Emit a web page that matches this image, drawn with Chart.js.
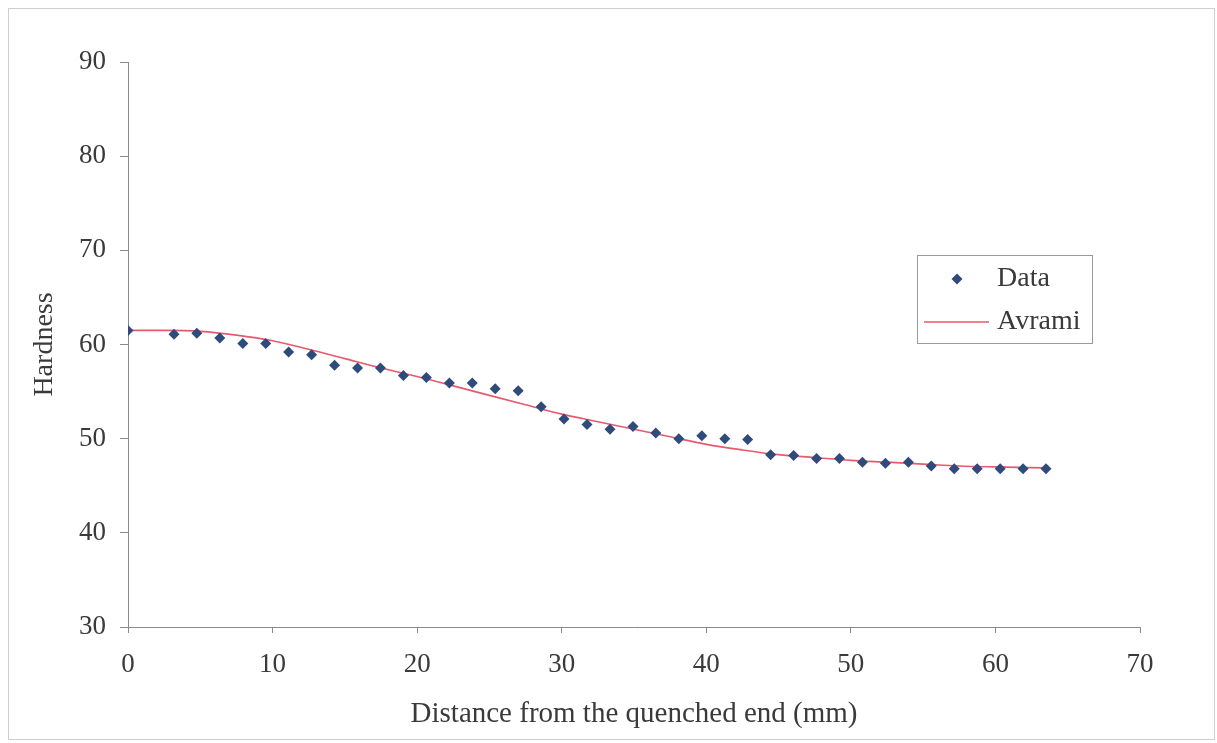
<!DOCTYPE html>
<html>
<head>
<meta charset="utf-8">
<script src="https://cdn.jsdelivr.net/npm/chart.js@4"></script>
<style>
  html, body { margin: 0; padding: 0; background: #fff; }
  #wrap { width: 1217px; height: 743px; }
</style>
</head>
<body>
<div id="wrap"><canvas id="myChart" width="1217" height="743"></canvas></div>
<script>
// Jominy positions, 1/16 inch steps (mm)
const dataX = [0, 3.18, 4.76, 6.35, 7.94, 9.53, 11.11, 12.7, 14.29, 15.88, 17.46, 19.05, 20.64,
  22.23, 23.81, 25.4, 26.99, 28.58, 30.16, 31.75, 33.34, 34.93, 36.51, 38.1, 39.69, 41.28,
  42.86, 44.45, 46.04, 47.63, 49.21, 50.8, 52.39, 53.98, 55.56, 57.15, 58.74, 60.33, 61.91, 63.5];
const dataY = [61.5, 61.1, 61.2, 60.7, 60.1, 60.1, 59.2, 58.9, 57.8, 57.5, 57.5, 56.7, 56.5,
  55.9, 55.9, 55.3, 55.1, 53.4, 52.1, 51.5, 51.0, 51.3, 50.6, 50.0, 50.3, 50.0,
  49.9, 48.3, 48.2, 47.9, 47.9, 47.5, 47.4, 47.5, 47.1, 46.8, 46.8, 46.8, 46.8, 46.8];

const avramiX = [0, 2.5, 5, 7.5, 10, 12.5, 15, 17.5, 20, 22.5, 25, 27.5, 30, 32.5, 35, 37.5,
  40, 42.5, 45, 47.5, 50, 52.5, 55, 57.5, 60, 63.5];
const avramiY = [61.5, 61.5, 61.4, 61.0, 60.4, 59.5, 58.5, 57.5, 56.6, 55.6, 54.6, 53.6, 52.6,
  51.8, 51.0, 50.2, 49.4, 48.8, 48.3, 48.0, 47.7, 47.5, 47.3, 47.1, 47.0, 46.9];

const seriesNames = ['Data', 'Avrami'];
const xTitle = 'Distance from the quenched end (mm)';
const yTitle = 'Hardness';

const serif = "'Liberation Serif', 'Times New Roman', serif";
const textColor = '#3a3a3a';
const axisColor = '#8a8a8a';
const markColor = '#2f4b7c';
const lineColor = '#e65a6e';

const toPoints = (xs, ys) => xs.map((x, i) => ({ x: x, y: ys[i] }));

// frame round the whole picture and the legend box
const framePlugin = {
    id: 'frame',
    beforeDraw(chart) {
        const ctx = chart.ctx;
        ctx.save();
        ctx.fillStyle = '#fff';
        ctx.fillRect(0, 0, chart.width, chart.height);
        ctx.strokeStyle = '#cfcfcf';
        ctx.lineWidth = 1;
        ctx.strokeRect(8.5, 8.5, chart.width - 11, chart.height - 12);
        ctx.restore();
    },
    afterDraw(chart) {
        const ctx = chart.ctx;
        const x0 = 917, y0 = 255, w = 175, h = 88;
        ctx.save();
        ctx.strokeStyle = '#9a9a9a';
        ctx.lineWidth = 1;
        ctx.strokeRect(x0 + 0.5, y0 + 0.5, w, h);
        ctx.font = '28px ' + serif;
        ctx.fillStyle = textColor;
        ctx.textBaseline = 'middle';
        ctx.fillText(seriesNames[0], x0 + 80, y0 + 24);
        ctx.fillText(seriesNames[1], x0 + 80, y0 + 67);
        // diamond marker
        const cx = x0 + 40, cy = y0 + 24, r = 5.5;
        ctx.fillStyle = markColor;
        ctx.beginPath();
        ctx.moveTo(cx, cy - r); ctx.lineTo(cx + r, cy); ctx.lineTo(cx, cy + r); ctx.lineTo(cx - r, cy);
        ctx.closePath();
        ctx.fill();
        ctx.strokeStyle = lineColor;
        ctx.lineWidth = 1.6;
        ctx.beginPath();
        ctx.moveTo(x0 + 7, y0 + 67); ctx.lineTo(x0 + 72, y0 + 67);
        ctx.stroke();
        ctx.restore();
    }
};

const canvas = document.getElementById('myChart').getContext('2d');
const myChart = new Chart(canvas, {
    type: 'scatter',
    data: {
        datasets: [{
            label: seriesNames[1],
            type: 'line',
            data: toPoints(avramiX, avramiY),
            borderColor: lineColor,
            borderWidth: 1.7,
            pointRadius: 0,
            cubicInterpolationMode: 'monotone',
            fill: false,
            order: 2
        }, {
            label: seriesNames[0],
            data: toPoints(dataX, dataY),
            pointStyle: 'rectRot',
            pointRadius: 5.5,
            backgroundColor: markColor,
            borderColor: markColor,
            borderWidth: 0,
            order: 1
        }]
    },
    options: {
        responsive: false,
        animation: false,
        layout: { padding: { top: 62, right: 77, bottom: 0, left: 0 } },
        plugins: {
            legend: { display: false },
            tooltip: { enabled: false }
        },
        scales: {
            x: {
                type: 'linear',
                min: 0,
                max: 70,
                afterFit: function (scale) { scale.height = 116; },
                ticks: { stepSize: 10, padding: 16, color: textColor, font: { family: serif, size: 27 } },
                grid: { display: true, drawOnChartArea: false, drawTicks: true, tickLength: 6, color: axisColor },
                border: { display: true, color: axisColor },
                title: { display: true, text: xTitle, color: textColor, font: { family: serif, size: 29 }, padding: { top: 0, bottom: 11 } }
            },
            y: {
                type: 'linear',
                min: 30,
                max: 90,
                afterFit: function (scale) { scale.width = 128; },
                ticks: { stepSize: 10, padding: 14, color: textColor, font: { family: serif, size: 27 } },
                grid: { display: true, drawOnChartArea: false, drawTicks: true, tickLength: 8, color: axisColor },
                border: { display: true, color: axisColor },
                title: { display: true, text: yTitle, color: textColor, font: { family: serif, size: 28 }, padding: { top: 28, bottom: 0 } }
            }
        }
    },
    plugins: [framePlugin]
});
</script>
</body>
</html>
